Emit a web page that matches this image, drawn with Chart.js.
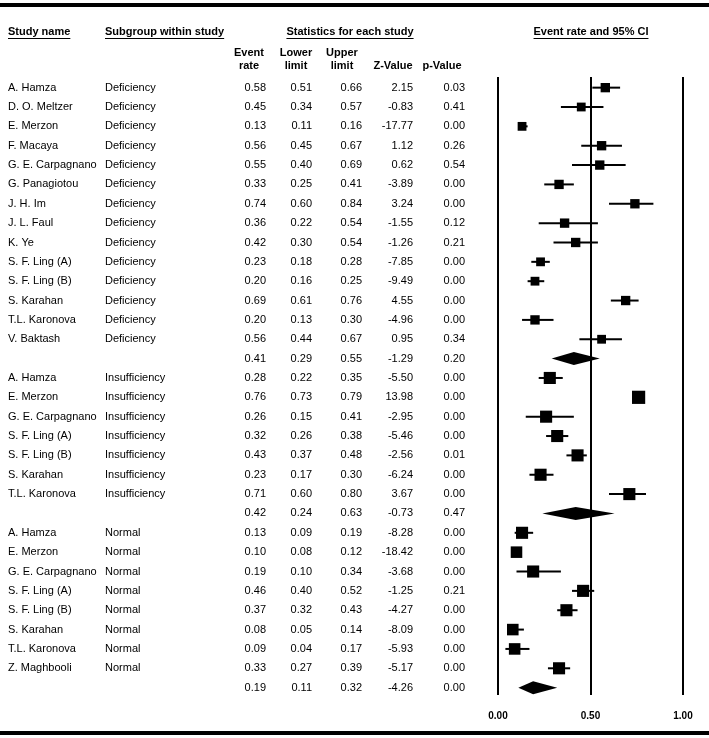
<!DOCTYPE html>
<html>
<head>
<meta charset="utf-8">
<script src="https://cdn.jsdelivr.net/npm/chart.js@4.4.1/dist/chart.umd.min.js"></script>
<style>
  html, body { margin: 0; padding: 0; background: #fff; }
  #forest { display: block; }
</style>
</head>
<body>
<canvas id="forest" width="709" height="738"></canvas>
<script>
// rows of the table, top to bottom ('' = pooled subgroup row)
const studyName = [
    'A. Hamza', 'D. O. Meltzer', 'E. Merzon', 'F. Macaya', 'G. E. Carpagnano', 'G. Panagiotou', 'J. H. Im',
    'J. L. Faul', 'K. Ye', 'S. F. Ling (A)', 'S. F. Ling (B)', 'S. Karahan', 'T.L. Karonova', 'V. Baktash', '',
    'A. Hamza', 'E. Merzon', 'G. E. Carpagnano', 'S. F. Ling (A)', 'S. F. Ling (B)', 'S. Karahan', 'T.L. Karonova', '',
    'A. Hamza', 'E. Merzon', 'G. E. Carpagnano', 'S. F. Ling (A)', 'S. F. Ling (B)', 'S. Karahan', 'T.L. Karonova', 'Z. Maghbooli', ''
];
const subgroup = [
    'Deficiency', 'Deficiency', 'Deficiency', 'Deficiency', 'Deficiency', 'Deficiency', 'Deficiency',
    'Deficiency', 'Deficiency', 'Deficiency', 'Deficiency', 'Deficiency', 'Deficiency', 'Deficiency', '',
    'Insufficiency', 'Insufficiency', 'Insufficiency', 'Insufficiency', 'Insufficiency', 'Insufficiency', 'Insufficiency', '',
    'Normal', 'Normal', 'Normal', 'Normal', 'Normal', 'Normal', 'Normal', 'Normal', ''
];
const eventRate = [0.58, 0.45, 0.13, 0.56, 0.55, 0.33, 0.74, 0.36, 0.42, 0.23, 0.20, 0.69, 0.20, 0.56, 0.41,
    0.28, 0.76, 0.26, 0.32, 0.43, 0.23, 0.71, 0.42,
    0.13, 0.10, 0.19, 0.46, 0.37, 0.08, 0.09, 0.33, 0.19];
const lowerLimit = [0.51, 0.34, 0.11, 0.45, 0.40, 0.25, 0.60, 0.22, 0.30, 0.18, 0.16, 0.61, 0.13, 0.44, 0.29,
    0.22, 0.73, 0.15, 0.26, 0.37, 0.17, 0.60, 0.24,
    0.09, 0.08, 0.10, 0.40, 0.32, 0.05, 0.04, 0.27, 0.11];
const upperLimit = [0.66, 0.57, 0.16, 0.67, 0.69, 0.41, 0.84, 0.54, 0.54, 0.28, 0.25, 0.76, 0.30, 0.67, 0.55,
    0.35, 0.79, 0.41, 0.38, 0.48, 0.30, 0.80, 0.63,
    0.19, 0.12, 0.34, 0.52, 0.43, 0.14, 0.17, 0.39, 0.32];
const zValue = [2.15, -0.83, -17.77, 1.12, 0.62, -3.89, 3.24, -1.55, -1.26, -7.85, -9.49, 4.55, -4.96, 0.95, -1.29,
    -5.50, 13.98, -2.95, -5.46, -2.56, -6.24, 3.67, -0.73,
    -8.28, -18.42, -3.68, -1.25, -4.27, -8.09, -5.93, -5.17, -4.26];
const pValue = [0.03, 0.41, 0.00, 0.26, 0.54, 0.00, 0.00, 0.12, 0.21, 0.00, 0.00, 0.00, 0.00, 0.34, 0.20,
    0.00, 0.00, 0.00, 0.00, 0.01, 0.00, 0.00, 0.47,
    0.00, 0.00, 0.00, 0.21, 0.00, 0.00, 0.00, 0.00, 0.00];
// relative study weight (box size), 0 for pooled rows
const studyWeight = [0.85, 0.8, 0.8, 0.85, 0.85, 0.85, 0.85, 0.85, 0.85, 0.8, 0.8, 0.85, 0.85, 0.8, 0,
    1.1, 1.2, 1.1, 1.1, 1.1, 1.1, 1.1, 0,
    1.1, 1.05, 1.1, 1.1, 1.1, 1.05, 1.05, 1.1, 0];
const xTicks = [0, 0.5, 1];

const FONT = '"Liberation Sans", Arial, sans-serif';
const isPooled = (i) => studyName[i] === '';

// squares (studies only)
const points = [];
const radii = [];
eventRate.forEach((v, i) => {
    if (!isPooled(i)) {
        points.push({ x: v, y: i });
        radii.push(studyWeight[i] * 11 / Math.SQRT2);
    }
});

// whiskers + diamonds drawn through the scales
const forestPlugin = {
    id: 'forest',
    beforeDatasetsDraw(chart) {
        const { ctx, scales: { x, y } } = chart;
        ctx.save();
        ctx.fillStyle = '#000';
        ctx.strokeStyle = '#000';
        ctx.lineWidth = 2;
        eventRate.forEach((v, i) => {
            const py = y.getPixelForValue(i);
            const lo = x.getPixelForValue(lowerLimit[i]);
            const hi = x.getPixelForValue(upperLimit[i]);
            const mid = x.getPixelForValue(v);
            if (isPooled(i)) {
                ctx.beginPath();
                ctx.moveTo(lo, py);
                ctx.lineTo(mid, py - 6.5);
                ctx.lineTo(hi, py);
                ctx.lineTo(mid, py + 6.5);
                ctx.closePath();
                ctx.fill();
            } else {
                ctx.beginPath();
                ctx.moveTo(lo, py);
                ctx.lineTo(hi, py);
                ctx.stroke();
            }
        });
        ctx.restore();
    },
    afterDraw(chart) {
        const { ctx, scales: { y } } = chart;
        const W = chart.width;
        ctx.save();
        ctx.fillStyle = '#000';
        ctx.strokeStyle = '#000';

        // thick rules top and bottom
        ctx.fillRect(0, 3, W, 4);
        ctx.fillRect(0, 731, W, 4);

        const text = (s, px, py, align, bold, underline) => {
            ctx.font = (bold ? 'bold ' : '') + '11px ' + FONT;
            ctx.textAlign = align;
            ctx.textBaseline = 'middle';
            ctx.fillText(s, px, py);
            if (underline) {
                const w = ctx.measureText(s).width;
                const x0 = align === 'center' ? px - w / 2 : (align === 'right' ? px - w : px);
                ctx.fillRect(x0, py + 6, w, 1);
            }
        };

        // headers
        text('Study name', 8, 32, 'left', true, true);
        text('Subgroup within study', 105, 32, 'left', true, true);
        text('Statistics for each study', 350, 32, 'center', true, true);
        text('Event rate and 95% CI', 591, 32, 'center', true, true);
        text('Event', 249, 53, 'center', true);
        text('rate', 249, 66, 'center', true);
        text('Lower', 296, 53, 'center', true);
        text('limit', 296, 66, 'center', true);
        text('Upper', 342, 53, 'center', true);
        text('limit', 342, 66, 'center', true);
        text('Z-Value', 393, 66, 'center', true);
        text('p-Value', 442, 66, 'center', true);

        // table rows
        studyName.forEach((s, i) => {
            const py = y.getPixelForValue(i);
            text(s, 8, py, 'left');
            text(subgroup[i], 105, py, 'left');
            text(eventRate[i].toFixed(2), 266, py, 'right');
            text(lowerLimit[i].toFixed(2), 312, py, 'right');
            text(upperLimit[i].toFixed(2), 362, py, 'right');
            text(zValue[i].toFixed(2), 413, py, 'right');
            text(pValue[i].toFixed(2), 465, py, 'right');
        });
        ctx.restore();
    }
};

new Chart(document.getElementById('forest'), {
    type: 'scatter',
    data: {
        datasets: [{
            data: points,
            pointStyle: 'rect',
            pointRadius: radii,
            backgroundColor: '#000',
            borderColor: '#000',
            borderWidth: 0
        }]
    },
    options: {
        responsive: false,
        animation: false,
        devicePixelRatio: 1,
        layout: { padding: { left: 498, right: 26, top: 77, bottom: 13 } },
        plugins: { legend: { display: false }, tooltip: { enabled: false } },
        scales: {
            x: {
                type: 'linear',
                min: 0,
                max: 1,
                afterBuildTicks: (scale) => { scale.ticks = xTicks.map(v => ({ value: v })); },
                afterFit: (scale) => { scale.height = 30; },
                ticks: {
                    callback: (v) => Number(v).toFixed(2),
                    color: '#000',
                    padding: 15,
                    maxRotation: 0,
                    font: { family: FONT, size: 10, weight: 'bold' }
                },
                grid: { color: '#000', lineWidth: 2, drawTicks: false },
                border: { display: false }
            },
            y: {
                type: 'linear',
                display: false,
                reverse: true,
                min: -0.55,
                max: 31.38
            }
        }
    },
    plugins: [forestPlugin]
});
</script>
</body>
</html>
